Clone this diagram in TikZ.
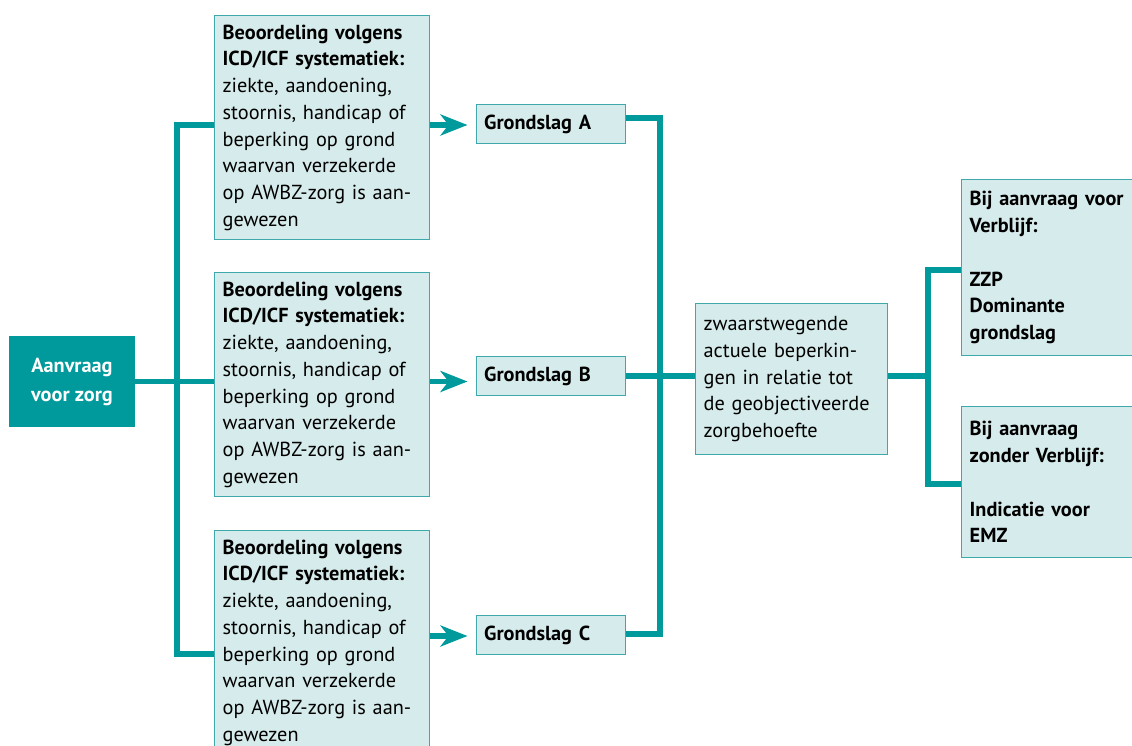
\documentclass[tikz,border=0pt]{standalone}
\usepackage{fontspec}
\setmainfont{PT Sans}
\usetikzlibrary{arrows.meta,calc}
\definecolor{teal1}{HTML}{009A9D}
\definecolor{boxfill}{HTML}{D6EBEB}
\definecolor{boxline}{HTML}{3FA8AB}
\newcommand{\fsz}{\fontsize{20.3}{26.7}\selectfont}
\tikzset{
  conn/.style={draw=teal1, line width=5.5pt},
  arr/.style={conn, -{Stealth[length=27pt,width=21pt,inset=8pt]}, shorten >=8pt},
  box/.style={draw=boxline, fill=boxfill, line width=1.3pt, anchor=north west,
    inner xsep=8pt, inner ysep=0pt, align=left, font=\fsz},
  bigbox/.style={box, text width=199pt, minimum height=224pt},
  gbox/.style={box, text width=133pt, minimum height=39pt, font=\fsz\bfseries},
  startbox/.style={fill=teal1, text=white, align=center, minimum width=126pt, minimum height=91pt,
    inner sep=0pt, font=\fontsize{20.3}{29}\selectfont\bfseries}
}
\begin{document}
\begin{tikzpicture}[x=1pt,y=-1pt]
\useasboundingbox (0,0) rectangle (1132,746);
\clip (0,0) rectangle (1132,746);
\node[startbox] (aan) at (72,381.5) {Aanvraag\\voor zorg};
\node[bigbox] (b1) at (214,15) {\textbf{Beoordeling volgens}\\\textbf{ICD/ICF systematiek:}\\ziekte, aandoening,\\stoornis, handicap of\\beperking op grond\\waarvan verzekerde\\op AWBZ-zorg is aan-\\gewezen};
\node[bigbox] (b2) at (214,272) {\textbf{Beoordeling volgens}\\\textbf{ICD/ICF systematiek:}\\ziekte, aandoening,\\stoornis, handicap of\\beperking op grond\\waarvan verzekerde\\op AWBZ-zorg is aan-\\gewezen};
\node[bigbox] (b3) at (214,530) {\textbf{Beoordeling volgens}\\\textbf{ICD/ICF systematiek:}\\ziekte, aandoening,\\stoornis, handicap of\\beperking op grond\\waarvan verzekerde\\op AWBZ-zorg is aan-\\gewezen};
\node[gbox] (gA) at (475.5,104) {Grondslag A};
\node[gbox] (gB) at (475.5,356) {Grondslag B};
\node[gbox] (gC) at (475.5,615) {Grondslag C};
\node[box, text width=176pt, minimum height=151pt] (zw) at (695,303) {zwaarstwegende\\actuele beperkin-\\gen in relatie tot\\de geobjectiveerde\\zorgbehoefte};
\node[box, text width=200pt, minimum height=176pt, font=\fsz\bfseries] (rt) at (961,179) {Bij aanvraag voor\\Verblijf:\\[26.7pt]ZZP\\Dominante\\grondslag};
\node[box, text width=200pt, minimum height=151pt, font=\fsz\bfseries] (rb) at (961,406) {Bij aanvraag\\zonder Verblijf:\\[26.7pt]Indicatie voor\\EMZ};
% left tree
\coordinate (t1) at (177,125);
\coordinate (t3) at (177,654);
\draw[conn] (b1.west |- t1) -- (t1) -- (t3) -- (b3.west |- t3);
\draw[conn] (aan.east) -- (b2.west |- aan.east);
% arrows
\draw[arr] (b1.east |- t1) -- (gA.west |- t1);
\draw[arr] (b2.east |- aan.east) -- (gB.west |- aan.east);
\draw[arr] (b3.east |- 0,636) -- (gC.west |- 0,636);
% middle tree
\coordinate (m1) at (660,118);
\coordinate (m3) at (660,634);
\draw[conn] (gA.east |- m1) -- (m1) -- (m3) -- (gC.east |- m3);
\draw[conn] (gB.east |- 0,376) -- (zw.west |- 0,376);
% right tree
\coordinate (r1) at (928,270);
\coordinate (r3) at (928,484);
\draw[conn] (rt.west |- r1) -- (r1) -- (r3) -- (rb.west |- r3);
\draw[conn] (zw.east |- 0,376) -- (r1 |- 0,376);
\end{tikzpicture}
\end{document}
